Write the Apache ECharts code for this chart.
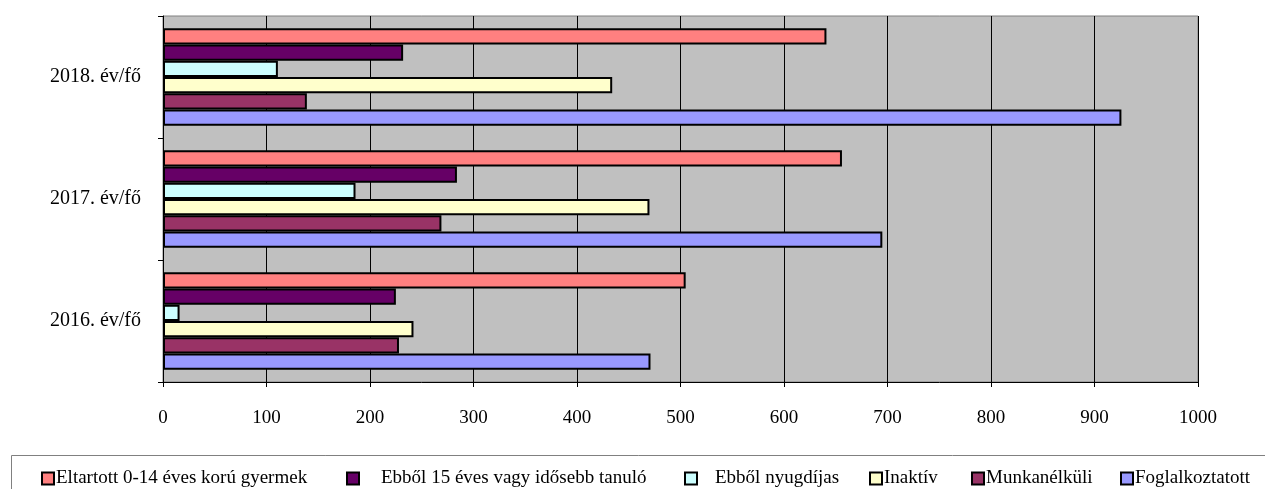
<!DOCTYPE html>
<html><head><meta charset="utf-8">
<script src="https://cdn.jsdelivr.net/npm/echarts@6/dist/echarts.min.js"></script>
<style>html,body{margin:0;padding:0;background:#fff}#c{width:1265px;height:489px}</style>
</head><body><div id="c"></div>
<script>
const categories = ['2016. év/fő', '2017. év/fő', '2018. év/fő'];
const seriesNames = ['Eltartott 0-14 éves korú gyermek', 'Ebből 15 éves vagy idősebb tanuló', 'Ebből nyugdíjas', 'Inaktív', 'Munkanélküli', 'Foglalkoztatott'];
const eltartott = [505, 656, 641];
const tanulo = [225, 284, 232];
const nyugdijas = [16, 186, 111];
const inaktiv = [242, 470, 434];
const munkanelkuli = [228, 269, 139];
const foglalkoztatott = [471, 695, 926];
const colors = ['#FF8080', '#660066', '#CCFFFF', '#FFFFCC', '#993366', '#9999FF'];
const values = [eltartott, tanulo, nyugdijas, inaktiv, munkanelkuli, foglalkoztatott];
const legendLeft = [41, 346, 684, 869, 971, 1120];
const legendTextPad = [-3, 17, 13, -3, -3, -3];

const font = 'Liberation Serif, Times New Roman, serif';
const series = seriesNames.map((n, i) => ({
  name: n, type: 'bar', data: values[i],
  barGap: '0%', barCategoryGap: '20%',
  itemStyle: { color: colors[i], borderColor: '#000', borderWidth: 2 },
  emphasis: { disabled: true }, animation: false
}));
const legends = seriesNames.map((n, i) => ({
  data: [n], left: legendLeft[i], top: 469, itemWidth: 12, itemHeight: 12, itemGap: 0,
  padding: 0, icon: 'rect',
  itemStyle: { borderColor: '#000', borderWidth: 2 },
  textStyle: { fontFamily: font, fontSize: 19, color: '#000', padding: [0, 0, 0, legendTextPad[i]] },
  selectedMode: false
}));
const chart = echarts.init(document.getElementById('c'), null, { renderer: 'canvas' });
chart.setOption({
  animation: false,
  backgroundColor: '#fff',
  grid: { left: 163, right: 67, top: 16, bottom: 107, show: true, backgroundColor: '#C0C0C0', borderColor: '#808080', borderWidth: 1 },
  xAxis: {
    type: 'value', min: 0, max: 1000, interval: 100,
    axisLine: { show: true, lineStyle: { color: '#000', width: 1 } },
    axisTick: { show: true, length: 5, lineStyle: { color: '#000' } },
    axisLabel: { margin: 27, fontFamily: font, fontSize: 19, color: '#000', formatter: v => String(v) },
    splitLine: { show: true, lineStyle: { color: '#000', width: 1 } }
  },
  yAxis: {
    type: 'category', data: categories,
    axisLine: { show: true, lineStyle: { color: '#000', width: 1 } },
    axisTick: { show: true, length: 5, lineStyle: { color: '#000' } },
    axisLabel: { margin: 22, fontFamily: font, fontSize: 20, color: '#000' },
    splitLine: { show: false }
  },
  legend: legends,
  graphic: [{ type: 'rect', shape: { x: 11.5, y: 455.5, width: 1270, height: 50 }, style: { fill: 'none', stroke: '#808080', lineWidth: 1 }, silent: true }],
  series: series
});
</script></body></html>
